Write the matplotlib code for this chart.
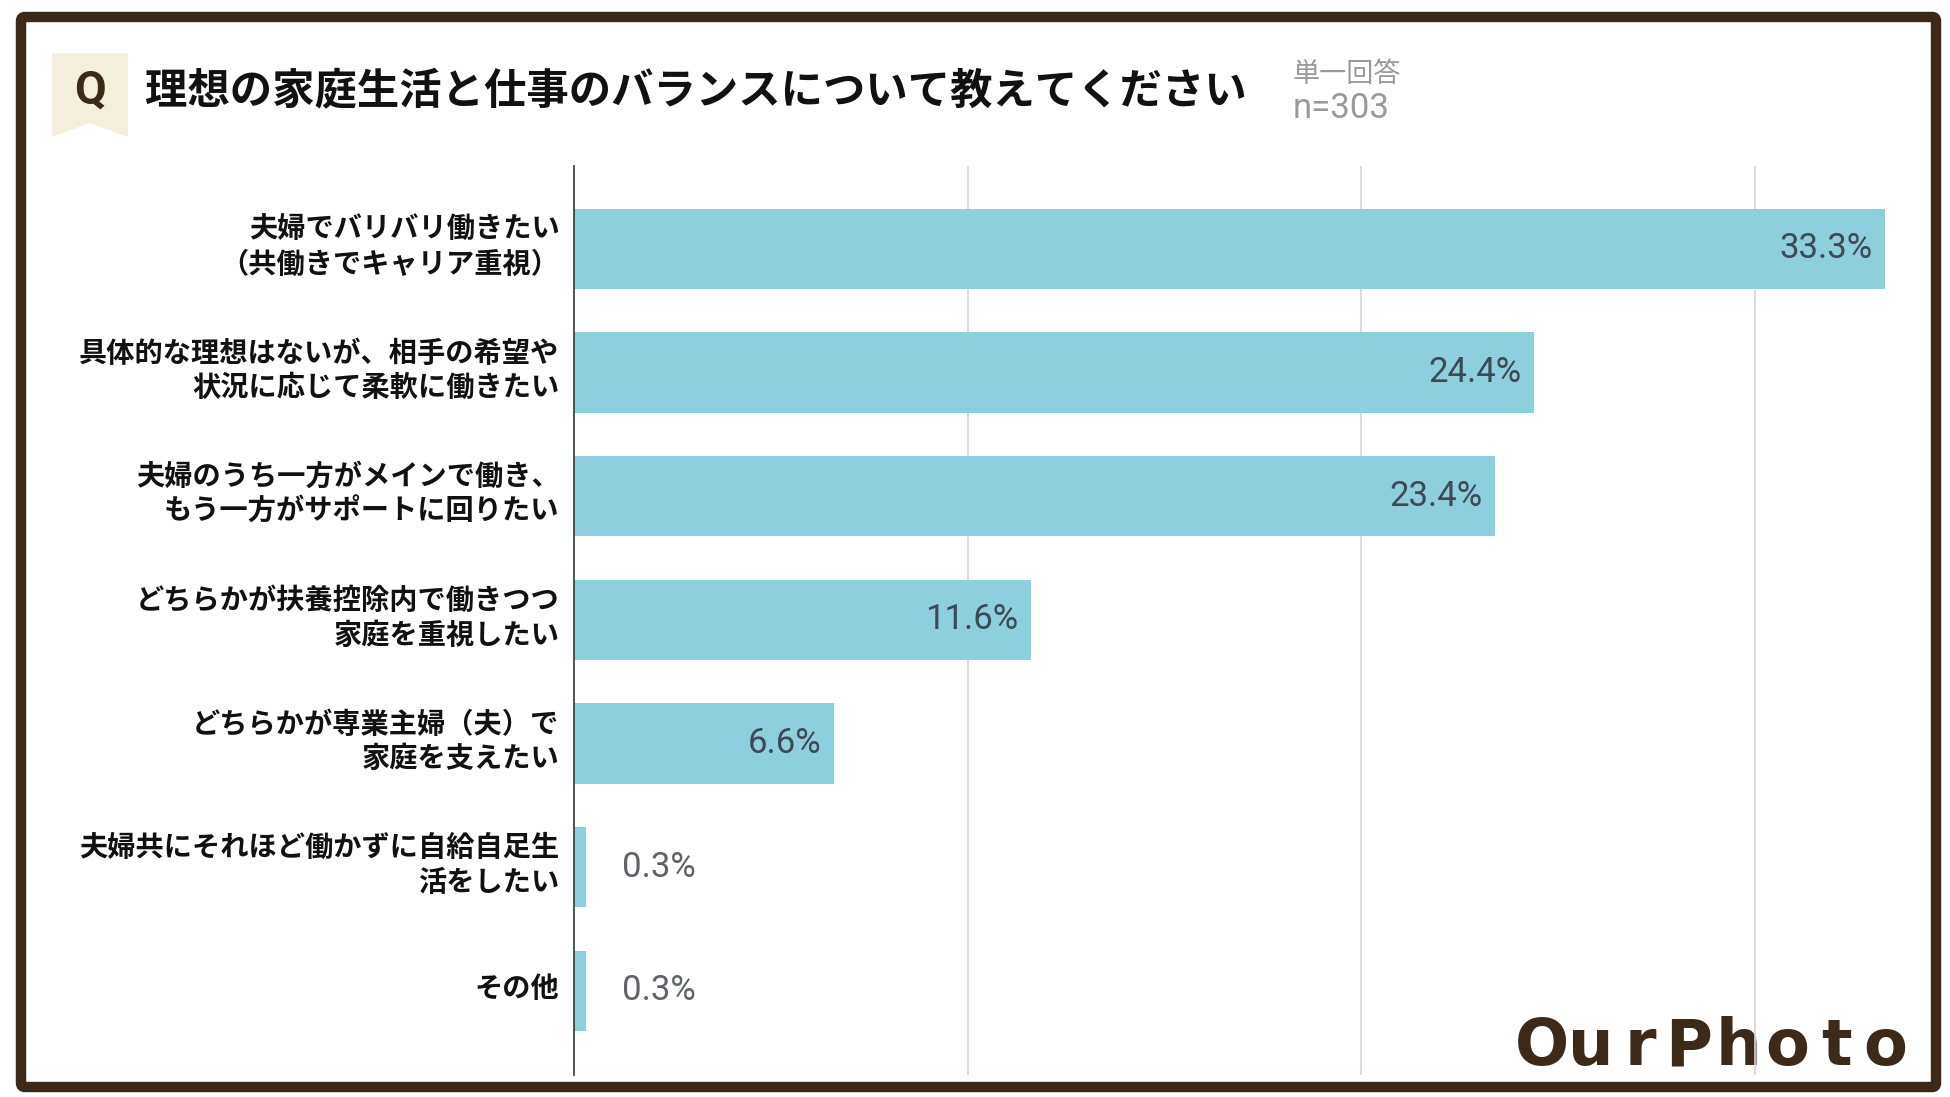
import matplotlib
matplotlib.use("Agg")
import matplotlib.pyplot as plt
from matplotlib.patches import Polygon, FancyBboxPatch

plt.rcParams['font.family'] = ['Noto Sans CJK JP', 'DejaVu Sans']

# ---- data ----
categories = [
    "夫婦でバリバリ働きたい\n（共働きでキャリア重視）",
    "具体的な理想はないが、相手の希望や\n状況に応じて柔軟に働きたい",
    "夫婦のうち一方がメインで働き、\nもう一方がサポートに回りたい",
    "どちらかが扶養控除内で働きつつ\n家庭を重視したい",
    "どちらかが専業主婦（夫）で\n家庭を支えたい",
    "夫婦共にそれほど働かずに自給自足生\n活をしたい",
    "その他",
]
values = [33.3, 24.4, 23.4, 11.6, 6.6, 0.3, 0.3]
x_ticks = [10, 20, 30]
title = "理想の家庭生活と仕事のバランスについて教えてください"
note1 = "単一回答"
note2 = "n=303"
logo = "OurPhoto"

W, H = 1950, 1097
fig = plt.figure(figsize=(W / 100, H / 100), dpi=100)
fig.patch.set_facecolor("white")

BROWN = "#3b2a1a"
BAR = "#8dcfdd"

# ---- decoration layer in pixel coordinates ----
deco = fig.add_axes([0, 0, 1, 1], zorder=0)
deco.set_xlim(0, W)
deco.set_ylim(H, 0)
deco.axis("off")

# Q badge
badge = Polygon([(52, 53), (128, 53), (128, 137), (90, 123), (52, 137)],
                closed=True, facecolor="#f4efdc", edgecolor="none")
deco.add_patch(badge)
deco.text(90, 91, "Q", ha="center", va="center", fontsize=33, color=BROWN,
          family=["Roboto", "DejaVu Sans"], fontweight="bold")

deco.text(145, 91, title, ha="left", va="center", fontsize=30.5,
          color="#111111", fontweight="bold")
deco.text(1293, 75, note1, ha="left", va="center", fontsize=19.5, color="#9a9a9a")
deco.text(1293, 108, note2, ha="left", va="center", fontsize=25, color="#9a9a9a",
          family=["Roboto", "DejaVu Sans"])

# logo, letters spread out like the original wordmark
for i, ch in enumerate(logo):
    deco.text(1542 + 49 * i, 1065, ch, ha="center", va="baseline", fontsize=46,
              color=BROWN, family=["DejaVu Sans"], fontweight="bold")

# outer border
border = FancyBboxPatch((21, 17), 1915, 1070, boxstyle="round,pad=0,rounding_size=4",
                        facecolor="none", edgecolor=BROWN, linewidth=7.5, zorder=5)
deco.add_patch(border)

# ---- chart ----
left, right, top, bottom = 574, 1932, 166, 1075
ax = fig.add_axes([left / W, 1 - bottom / H, (right - left) / W, (bottom - top) / H], zorder=1)
ax.patch.set_alpha(0)

ypos = list(range(len(categories)))
ax.barh(ypos, values, height=0.65, color=BAR, zorder=2)

ax.set_xlim(0, 34.5)
ax.set_ylim(len(categories) - 1 + 0.68, -0.67)
ax.set_xticks(x_ticks)
ax.xaxis.grid(True, color="#d6d6d6", linewidth=1.2, zorder=0)
ax.tick_params(axis="x", length=0, labelbottom=False)
ax.set_yticks(ypos)
ax.tick_params(axis="y", length=0, labelleft=False)

# category labels (right-aligned next to the axis)
for y, cat in zip(ypos, categories):
    ax.annotate(cat, (0, y), xytext=(-10.5, 1.2), textcoords="offset points",
                ha="right", va="center", multialignment="right",
                fontsize=20.3, fontweight="bold", color="#111111",
                linespacing=1.3, annotation_clip=False)

for s in ["top", "right", "bottom"]:
    ax.spines[s].set_visible(False)
ax.spines["left"].set_color("#444444")
ax.spines["left"].set_linewidth(1.3)
ax.spines["left"].set_zorder(3)

for y, v in zip(ypos, values):
    label = f"{v:.1f}%"
    if v > 3:
        ax.annotate(label, (v, y), xytext=(-9, 0), textcoords="offset points",
                    ha="right", va="center", fontsize=25, color="#3c4a52",
                    family=["Roboto", "DejaVu Sans"], zorder=4)
    else:
        ax.annotate(label, (v, y), xytext=(26, 0), textcoords="offset points",
                    ha="left", va="center", fontsize=25, color="#5f6368",
                    family=["Roboto", "DejaVu Sans"], zorder=4)

fig.savefig("out.png", dpi=100, facecolor="white")
